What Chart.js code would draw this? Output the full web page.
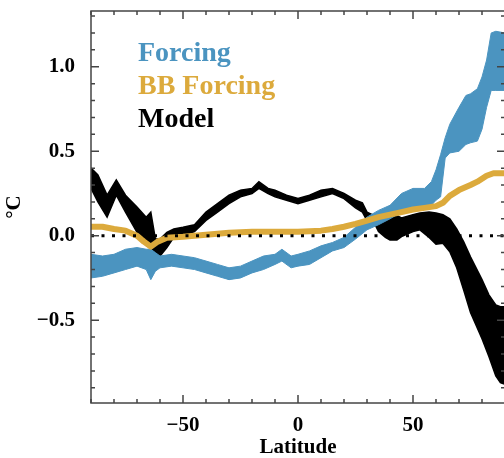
<!DOCTYPE html>
<html lang="en">
<head>
    <meta charset="UTF-8">
    <title>Forcing vs Model</title>
    <script src="https://cdn.jsdelivr.net/npm/chart.js"></script>
    <style>
        html, body {
            margin: 0;
            padding: 0;
            background: #fff;
            overflow: hidden;
        }
        #wrap {
            width: 520px;
            height: 458px;
        }
    </style>
</head>
<body>
    <div id="wrap">
        <canvas id="chart" width="520" height="458"></canvas>
    </div>

    <script>
        // values (latitude in degrees, temperature in °C)
        const forcingLat = [-90,-85,-80,-75,-70,-66,-64,-62,-60,-55,-50,-45,-40,-35,-30,-25,-20,-15,-10,-7,-3,0,5,10,15,20,25,30,35,40,45,50,55,58,60,62,64,66,70,73,75,78,80,82,84,86,90];
        const forcingHi = [-0.11,-0.12,-0.11,-0.08,-0.07,-0.08,-0.08,-0.10,-0.12,-0.11,-0.12,-0.13,-0.15,-0.17,-0.19,-0.18,-0.15,-0.12,-0.11,-0.08,-0.12,-0.11,-0.09,-0.06,-0.04,-0.01,0.05,0.11,0.15,0.18,0.25,0.28,0.28,0.32,0.39,0.48,0.58,0.66,0.76,0.83,0.84,0.87,0.94,1.04,1.20,1.21,1.20];
        const forcingLo = [-0.25,-0.24,-0.22,-0.20,-0.18,-0.20,-0.26,-0.21,-0.19,-0.18,-0.19,-0.20,-0.22,-0.24,-0.26,-0.25,-0.22,-0.20,-0.17,-0.15,-0.19,-0.18,-0.17,-0.13,-0.09,-0.07,-0.02,0.035,0.065,0.10,0.14,0.15,0.17,0.18,0.21,0.23,0.46,0.49,0.50,0.54,0.55,0.56,0.63,0.76,0.86,0.86,0.86];

        const bbLat = [-90,-85,-80,-75,-70,-67,-64,-61,-57,-50,-45,-40,-30,-20,-10,0,10,15,20,25,30,35,40,45,50,55,60,63,66,70,75,78,82,85,90];
        const bbVal = [0.053,0.053,0.04,0.03,0.0,-0.035,-0.065,-0.035,-0.012,-0.006,0.0,0.006,0.018,0.024,0.024,0.024,0.03,0.04,0.053,0.07,0.09,0.11,0.125,0.14,0.155,0.165,0.175,0.195,0.236,0.27,0.30,0.32,0.355,0.37,0.37];

        const modelLat = [-90,-87,-83,-79,-75,-70,-66,-64,-62,-60,-57,-54,-50,-45,-40,-35,-30,-25,-20,-17,-13,-10,-5,0,5,10,15,20,25,28,30,33,35,38,40,43,45,50,53,57,60,63,66,69,72,75,80,83,86,88,90];
        const modelHi = [0.40,0.36,0.24,0.33,0.24,0.17,0.11,0.14,-0.02,-0.02,0.02,0.04,0.05,0.065,0.14,0.19,0.24,0.27,0.28,0.32,0.28,0.27,0.24,0.22,0.24,0.27,0.28,0.25,0.21,0.195,0.14,0.12,0.105,0.105,0.11,0.12,0.105,0.125,0.135,0.14,0.135,0.125,0.10,0.04,-0.035,-0.125,-0.26,-0.35,-0.41,-0.42,-0.42];
        const modelLo = [0.28,0.20,0.11,0.24,0.14,0.02,-0.035,-0.06,-0.13,-0.12,-0.07,-0.01,0.0,0.025,0.09,0.14,0.19,0.23,0.25,0.28,0.25,0.23,0.21,0.19,0.21,0.23,0.25,0.22,0.165,0.14,0.09,0.08,0.025,-0.01,-0.025,-0.025,-0.005,0.025,0.035,-0.01,-0.05,-0.045,-0.095,-0.19,-0.32,-0.455,-0.61,-0.715,-0.83,-0.87,-0.88];

        const zeroLat = [-90, 90];
        const zeroVal = [0, 0];

        const xTicks = [-50, 0, 50];
        const yTicks = [-0.5, 0.0, 0.5, 1.0];
        const seriesNames = ['Forcing', 'BB Forcing', 'Model'];

        const BLUE = '#4b94c0';
        const GOLD = '#dcaa3c';
        const BLACK = '#000000';
        const FONT = "'Liberation Serif', 'Times New Roman', serif";

        const pts = (xs, ys) => xs.map((x, i) => ({ x: x, y: ys[i] }));
        const fmt = v => String(v).replace('-', '\u2212');

        // frame with inward ticks + in-plot legend text
        const framePlugin = {
            id: 'frame',
            afterDraw(chart) {
                const ctx = chart.ctx;
                const a = chart.chartArea;
                const xs = chart.scales.x, ys = chart.scales.y;
                ctx.save();
                ctx.strokeStyle = '#444';
                ctx.lineWidth = 1.5;
                ctx.strokeRect(a.left, a.top, a.right - a.left, a.bottom - a.top);
                ctx.beginPath();
                for (let v = -90; v <= 90; v += 10) {
                    const px = xs.getPixelForValue(v);
                    const len = xTicks.includes(v) ? 8 : 4;
                    ctx.moveTo(px, a.bottom); ctx.lineTo(px, a.bottom - len);
                    ctx.moveTo(px, a.top); ctx.lineTo(px, a.top + len);
                }
                for (let k = -9; k <= 13; k++) {
                    const v = k / 10;
                    const py = ys.getPixelForValue(v);
                    const len = (k % 5 === 0) ? 8 : 4;
                    ctx.moveTo(a.left, py); ctx.lineTo(a.left + len, py);
                    ctx.moveTo(a.right, py); ctx.lineTo(a.right - len, py);
                }
                ctx.stroke();

                ctx.font = 'bold 28px ' + FONT;
                ctx.textBaseline = 'alphabetic';
                ctx.textAlign = 'left';
                const colors = [BLUE, GOLD, BLACK];
                seriesNames.forEach((name, i) => {
                    ctx.fillStyle = colors[i];
                    ctx.fillText(name, 138, 61 + i * 33);
                });
                ctx.restore();
            }
        };

        const ctx = document.getElementById('chart').getContext('2d');
        new Chart(ctx, {
            type: 'line',
            data: {
                datasets: [
                    {
                        label: 'zero',
                        data: pts(zeroLat, zeroVal),
                        borderColor: BLACK,
                        borderWidth: 3,
                        borderDash: [3, 7.5],
                        pointRadius: 0,
                        fill: false
                    },
                    {
                        label: seriesNames[1],
                        data: pts(bbLat, bbVal),
                        borderColor: GOLD,
                        borderWidth: 6,
                        borderJoinStyle: 'round',
                        pointRadius: 0,
                        fill: false
                    },
                    {
                        label: seriesNames[0] + ' hi',
                        data: pts(forcingLat, forcingHi),
                        borderColor: BLUE,
                        backgroundColor: BLUE,
                        borderWidth: 1,
                        pointRadius: 0,
                        fill: '+1'
                    },
                    {
                        label: seriesNames[0] + ' lo',
                        data: pts(forcingLat, forcingLo),
                        borderColor: BLUE,
                        borderWidth: 1,
                        pointRadius: 0,
                        fill: false
                    },
                    {
                        label: seriesNames[2] + ' hi',
                        data: pts(modelLat, modelHi),
                        borderColor: BLACK,
                        backgroundColor: BLACK,
                        borderWidth: 1.5,
                        pointRadius: 0,
                        fill: '+1'
                    },
                    {
                        label: seriesNames[2] + ' lo',
                        data: pts(modelLat, modelLo),
                        borderColor: BLACK,
                        borderWidth: 1.5,
                        pointRadius: 0,
                        fill: false
                    }
                ]
            },
            options: {
                responsive: false,
                animation: false,
                layout: { padding: { left: 0, top: 11, right: 15, bottom: 0 } },
                scales: {
                    x: {
                        type: 'linear',
                        min: -90,
                        max: 90,
                        grid: { display: false },
                        border: { display: false },
                        afterFit: s => { s.height = 55; s.paddingLeft = 0; s.paddingRight = 0; },
                        afterBuildTicks: s => { s.ticks = xTicks.map(v => ({ value: v })); },
                        ticks: {
                            padding: 2,
                            color: '#000',
                            font: { family: FONT, size: 21, weight: 'bold' },
                            maxRotation: 0,
                            callback: v => fmt(v)
                        },
                        title: {
                            display: true,
                            text: 'Latitude',
                            color: '#000',
                            font: { family: FONT, size: 21, weight: 'bold', lineHeight: 1 },
                            padding: { top: 0, bottom: 0 }
                        }
                    },
                    y: {
                        type: 'linear',
                        min: -0.99,
                        max: 1.33,
                        grid: { display: false },
                        border: { display: false },
                        afterFit: s => { s.width = 91; s.paddingTop = 0; s.paddingBottom = 0; },
                        afterBuildTicks: s => { s.ticks = yTicks.map(v => ({ value: v })); },
                        ticks: {
                            padding: 8,
                            color: '#000',
                            font: { family: FONT, size: 21, weight: 'bold' },
                            callback: v => fmt(v.toFixed(1))
                        },
                        title: {
                            display: true,
                            text: '°C',
                            color: '#000',
                            font: { family: FONT, size: 21, weight: 'bold', lineHeight: 1 },
                            padding: { top: 4, bottom: 0 }
                        }
                    }
                },
                plugins: {
                    legend: { display: false },
                    tooltip: { enabled: false }
                }
            },
            plugins: [framePlugin]
        });
    </script>
</body>
</html>
